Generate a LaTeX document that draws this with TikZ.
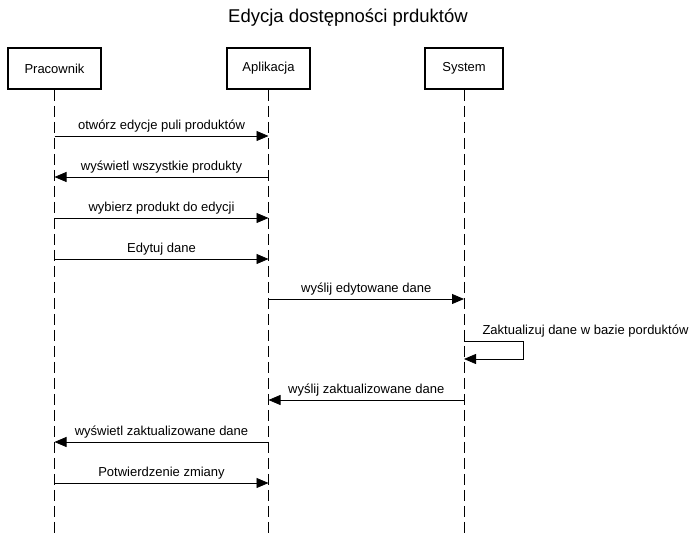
\documentclass[tikz,border=0pt]{standalone}
\usepackage{fontspec}
\setmainfont{Liberation Sans}
\usetikzlibrary{arrows.meta}
\begin{document}
\begin{tikzpicture}[x=1pt,y=-1pt]
\tikzstyle{actor}=[draw, line width=1.6pt, minimum height=41pt, inner sep=0pt, font=\fontsize{13}{15}\selectfont]
\tikzstyle{life}=[dash pattern=on 11pt off 5pt, line width=0.8pt]
\tikzstyle{msg}=[-{Triangle[length=12pt,width=10pt]}, line width=0.8pt]
\tikzstyle{lbl}=[above=0pt, font=\fontsize{13}{15}\selectfont]
\useasboundingbox (0,0) rectangle (694,534);
\draw node (T) at (348,18) {\fontsize{18.5}{21}\selectfont Edycja dostępności prduktów};
\draw node[actor, minimum width=93pt] (P) at (54.5,68.5) {Pracownik};
\draw node[actor, minimum width=83pt] (A) at (268.5,68.5) {Aplikacja};
\draw node[actor, minimum width=78pt] (S) at (464,68.5) {System};
\coordinate (PE) at (54.5,534);
\coordinate (AE) at (268.5,534);
\coordinate (SE) at (464,534);
\draw[life] (P) -- (PE);
\draw[life] (A) -- (AE);
\draw[life] (S) -- (SE);
% points on the lifelines
\foreach \y [count=\i] in {136,177,218,259,299,341,359,400,442,483} {
  \coordinate (P\i) at (54.5,\y);
  \coordinate (A\i) at (268.5,\y);
  \coordinate (S\i) at (464,\y);
}
\coordinate (R1) at (523,341);
\coordinate (R2) at (523,359);
\draw[msg] (P1) -- node[lbl] {otwórz edycje puli produktów} (A1);
\draw[msg] (A2) -- node[lbl] {wyświetl wszystkie produkty} (P2);
\draw[msg] (P3) -- node[lbl] {wybierz produkt do edycji} (A3);
\draw[msg] (P4) -- node[lbl] {Edytuj dane} (A4);
\draw[msg] (A5) -- node[lbl] {wyślij edytowane dane} (S5);
\draw[msg] (S6) -- (R1) -- (R2) -- (S7);
\draw node[lbl, anchor=south west] (U) at (479,341) {Zaktualizuj dane w bazie porduktów};
\draw[msg] (S8) -- node[lbl] {wyślij zaktualizowane dane} (A8);
\draw[msg] (A9) -- node[lbl] {wyświetl zaktualizowane dane} (P9);
\draw[msg] (P10) -- node[lbl] {Potwierdzenie zmiany} (A10);
\end{tikzpicture}
\end{document}
